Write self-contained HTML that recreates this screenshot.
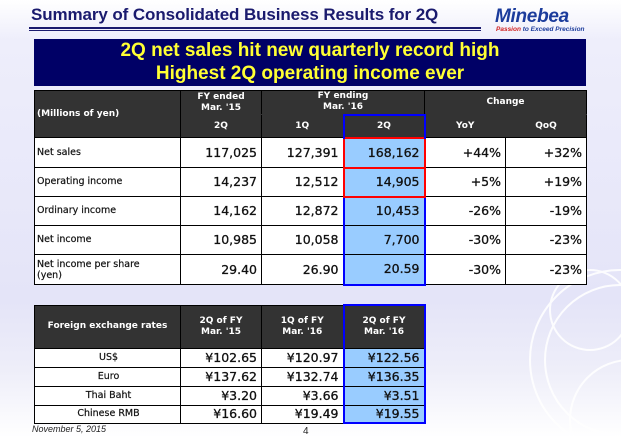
<!DOCTYPE html>
<html><head><meta charset="utf-8"><style>
*{margin:0;padding:0;box-sizing:border-box}
body{width:621px;height:438px;overflow:hidden;position:relative;background:linear-gradient(#ffffff 0px,#eeeefb 40px,#e4e4f8 300px,#eeeef9 370px,#ffffff 438px);font-family:"DejaVu Sans","Liberation Sans",sans-serif}
.a{position:absolute}
table{position:absolute;border-collapse:collapse;table-layout:fixed}
td{border:1px solid #000;background:#fff;font-size:10px;color:#111;overflow:hidden;white-space:nowrap;line-height:12px}
td.h{background:#333;color:#fff;font-weight:bold;text-align:center;font-size:9px;line-height:11px;border-color:#000}
td.n{text-align:right;font-size:12.5px;padding-right:4px;font-weight:normal;color:#111;-webkit-text-stroke:0.3px #111}
td.b{background:#99ccff}
td.l{padding-left:2px;font-size:9.5px;font-weight:normal;color:#111;-webkit-text-stroke:0.2px #111}
</style></head><body>
<svg class="a" style="left:430px;top:250px" width="191" height="188">
<g fill="none" stroke="#fff" stroke-width="2" opacity="0.9"><circle cx="190" cy="110" r="90"/><circle cx="190" cy="110" r="75"/><circle cx="160" cy="60" r="40"/><circle cx="200" cy="170" r="60"/></g></svg>
<div class="a" style="left:31px;top:5px;font-family:'Liberation Sans',sans-serif;font-weight:bold;font-size:17px;color:#1a1a6e;letter-spacing:-0.1px">Summary of Consolidated Business Results for 2Q</div>
<div class="a" style="left:29px;top:27px;width:452px;height:2px;background:#1a1a6e"></div>
<div class="a" style="left:29px;top:30px;width:452px;height:1px;background:#1a1a6e"></div>
<div class="a" style="left:495px;top:6px;font-family:'Liberation Sans',sans-serif;font-weight:bold;font-style:italic;font-size:19px;color:#1c3c9c;letter-spacing:-0.3px">Minebea</div>
<div class="a" style="left:496px;top:26px;font-family:'Liberation Sans',sans-serif;font-style:italic;font-weight:bold;font-size:6.5px;color:#1c3c9c"><span style="color:#d02020">Passion</span> to Exceed Precision</div>
<div class="a" style="left:34px;top:39px;width:552px;height:47px;background:#000066;color:#ffff33;font-family:'Liberation Sans',sans-serif;font-weight:bold;font-size:19px;text-align:center;line-height:23px">2Q net sales hit new quarterly record high<br>Highest 2Q operating income ever</div>

<table style="left:34px;top:90px;width:552px">
<colgroup><col style="width:146px"><col style="width:81px"><col style="width:82px"><col style="width:81px"><col style="width:81px"><col style="width:81px"></colgroup>
<tr style="height:24px"><td class="h" rowspan="2" style="text-align:left;padding-left:2px">(Millions of yen)</td><td class="h" style="border-bottom:1px solid #333">FY ended<br>Mar. '15</td><td class="h" colspan="2" style="border-bottom:1px solid #333">FY ending<br>Mar. '16</td><td class="h" colspan="2" style="border-bottom:1px solid #333">Change</td></tr>
<tr style="height:23px"><td class="h" style="border-top:1px solid #333">2Q</td><td class="h" style="border-top:1px solid #333">1Q</td><td class="h" style="border:2px solid #0000ff;border-bottom:none">2Q</td><td class="h" style="border-top:1px solid #333;border-right:1px solid #333">YoY</td><td class="h" style="border-top:1px solid #333;border-left:1px solid #333">QoQ</td></tr>
<tr style="height:30px"><td class="l">Net sales</td><td class="n">117,025</td><td class="n">127,391</td><td class="n b" style="border:2px solid #ff0000">168,162</td><td class="n">+44%</td><td class="n">+32%</td></tr>
<tr style="height:29px"><td class="l">Operating income</td><td class="n">14,237</td><td class="n">12,512</td><td class="n b" style="border:2px solid #ff0000">14,905</td><td class="n">+5%</td><td class="n">+19%</td></tr>
<tr style="height:29px"><td class="l">Ordinary income</td><td class="n">14,162</td><td class="n">12,872</td><td class="n b" style="border-left:2px solid #00f;border-right:2px solid #00f">10,453</td><td class="n">-26%</td><td class="n">-19%</td></tr>
<tr style="height:29px"><td class="l">Net income</td><td class="n">10,985</td><td class="n">10,058</td><td class="n b" style="border-left:2px solid #00f;border-right:2px solid #00f">7,700</td><td class="n">-30%</td><td class="n">-23%</td></tr>
<tr style="height:30px"><td class="l" style="line-height:11px">Net income per share<br>(yen)</td><td class="n">29.40</td><td class="n">26.90</td><td class="n b" style="border:2px solid #00f;border-top:1px solid #000">20.59</td><td class="n">-30%</td><td class="n">-23%</td></tr>
</table>

<table style="left:34px;top:304px;width:390px">
<colgroup><col style="width:146px"><col style="width:81px"><col style="width:82px"><col style="width:81px"></colgroup>
<tr style="height:43px"><td class="h">Foreign exchange rates</td><td class="h">2Q of FY<br>Mar. '15</td><td class="h">1Q of FY<br>Mar. '16</td><td class="h" style="border:2px solid #00f;border-bottom:1px solid #000">2Q of FY<br>Mar. '16</td></tr>
<tr style="height:19px"><td class="l" style="text-align:center">US$</td><td class="n">¥102.65</td><td class="n">¥120.97</td><td class="n b" style="border-left:2px solid #00f;border-right:2px solid #00f">¥122.56</td></tr>
<tr style="height:19px"><td class="l" style="text-align:center">Euro</td><td class="n">¥137.62</td><td class="n">¥132.74</td><td class="n b" style="border-left:2px solid #00f;border-right:2px solid #00f">¥136.35</td></tr>
<tr style="height:19px"><td class="l" style="text-align:center">Thai Baht</td><td class="n">¥3.20</td><td class="n">¥3.66</td><td class="n b" style="border-left:2px solid #00f;border-right:2px solid #00f">¥3.51</td></tr>
<tr style="height:18px"><td class="l" style="text-align:center">Chinese RMB</td><td class="n">¥16.60</td><td class="n">¥19.49</td><td class="n b" style="border:2px solid #00f;border-top:1px solid #000">¥19.55</td></tr>
</table>
<div class="a" style="left:32px;top:424px;font-family:'Liberation Sans',sans-serif;font-style:italic;font-size:9px;line-height:10px;color:#222">November 5, 2015</div>
<div class="a" style="left:303px;top:426px;font-family:'Liberation Sans',sans-serif;font-size:10px;line-height:11px;color:#222">4</div>
</body></html>
